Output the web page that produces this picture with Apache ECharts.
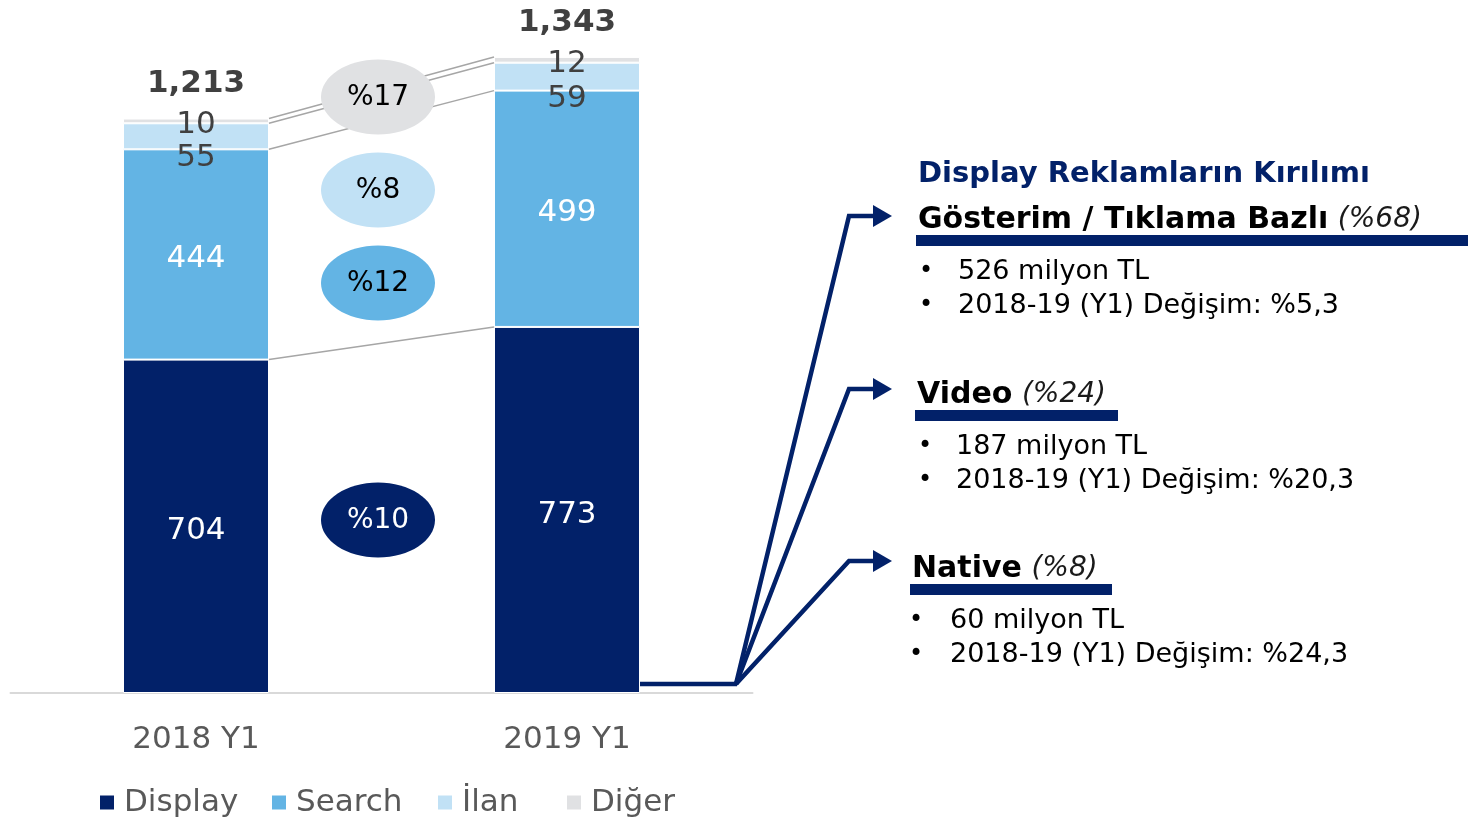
<!DOCTYPE html>
<html>
<head>
    <meta charset="UTF-8"/>
    <script type="text/javascript" src="https://cdn.jsdelivr.net/npm/echarts@6/dist/echarts.min.js"></script>
    <title>Display</title>
    <style>html, body {margin: 0; padding: 0; background: #fff;}</style>
</head>
<body>
<div id="main" style="width:1468px;height:819px"></div>
<script type="text/javascript">
    var categories = ['2018 Y1', '2019 Y1']
    var display = [704, 773]
    var search = [444, 499]
    var ilan = [55, 59]
    var diger = [10, 12]
    var totals = [1213, 1343]
    // büyüme oranları: Display, Search, İlan, Diğer
    var growth = ['%10', '%12', '%8', '%17']
    var seriesNames = ['Display', 'Search', 'İlan', 'Diğer']

    var breakTitles = ['Gösterim / Tıklama Bazlı', 'Video', 'Native']
    var breakShares = ['(%68)', '(%24)', '(%8)']
    var breakAmounts = ['526 milyon TL', '187 milyon TL', '60 milyon TL']
    var breakChanges = ['2018-19 (Y1) Değişim: %5,3', '2018-19 (Y1) Değişim: %20,3', '2018-19 (Y1) Değişim: %24,3']

    var FONT = '"DejaVu Sans"'
    var NAVY = '#022169'
    var colors = [NAVY, '#63b4e4', '#c1e1f5', '#e0e1e3']
    var BAR = 146

    // yığın sınırları (bağlantı çizgileri için)
    var cum = []
    var run = [0, 0]
    ;[display, search, ilan, diger].forEach(function (s) {
        run = [run[0] + s[0], run[1] + s[1]]
        cum.push([0, run[0], run[1]])
    })

    var myChart = echarts.init(document.getElementById('main'))

    function barLabel(color, offset) {
        return {
            show: true,
            position: 'inside',
            offset: offset,
            color: color,
            fontFamily: FONT,
            fontSize: 31
        }
    }

    var graphics = []
    // büyüme elipsleri
    var ellipseY = [520, 283, 190, 97]
    for (var i = 0; i < growth.length; i++) {
        graphics.push({
            type: 'ellipse', z: 100, silent: true,
            shape: {cx: 378, cy: ellipseY[i], rx: 57, ry: 37.5},
            style: {fill: colors[i]}
        })
        graphics.push({
            type: 'text', z: 101, silent: true,
            style: {
                text: growth[i], x: 378, y: ellipseY[i] + 1,
                align: 'center', verticalAlign: 'middle',
                fill: i == 0 ? '#fff' : '#000',
                fontFamily: FONT, fontSize: 28
            }
        })
    }

    // sağ panel
    graphics.push({
        type: 'text', z: 100, silent: true,
        style: {
            text: 'Display Reklamların Kırılımı', x: 918, y: 174,
            verticalAlign: 'middle', fill: NAVY,
            fontFamily: FONT, fontWeight: 'bold', fontSize: 29
        }
    })
    var headY = [218, 393, 567]
    var headX = [918, 917, 912]
    var barEnd = [1468, 1118, 1112]
    var bulletX = [926, 925, 916]
    var textX = [958, 956, 950]
    var arrowY = [216, 389, 561]
    for (var k = 0; k < 3; k++) {
        graphics.push({
            type: 'text', z: 100, silent: true,
            style: {
                text: '{b|' + breakTitles[k] + '}{s| }{i|' + breakShares[k] + '}',
                x: headX[k], y: headY[k] + 2, verticalAlign: 'middle',
                rich: {
                    b: {fontFamily: FONT, fontWeight: 'bold', fontSize: 30, fill: '#000'},
                    s: {fontFamily: FONT, fontSize: 30},
                    i: {fontFamily: FONT, fontStyle: 'italic', fontSize: 28, fill: '#1a1a1a'}
                }
            }
        })
        graphics.push({
            type: 'rect', z: 100, silent: true,
            shape: {x: headX[k] - 2, y: headY[k] + 17, width: barEnd[k] - headX[k] + 2, height: 11},
            style: {fill: NAVY}
        })
        var lines = [breakAmounts[k], breakChanges[k]]
        for (var j = 0; j < 2; j++) {
            var ly = headY[k] + 54 + j * 34
            graphics.push({
                type: 'text', z: 100, silent: true,
                style: {text: '•', x: bulletX[k], y: ly, align: 'center', verticalAlign: 'middle',
                    fill: '#000', fontFamily: FONT, fontSize: 24}
            })
            graphics.push({
                type: 'text', z: 100, silent: true,
                style: {text: lines[j], x: textX[k], y: ly, verticalAlign: 'middle',
                    fill: '#000', fontFamily: FONT, fontSize: 27}
            })
        }
        // oklar
        graphics.push({
            type: 'polyline', z: 100, silent: true,
            shape: {points: [[736, 684], [849, arrowY[k]], [877, arrowY[k]]]},
            style: {stroke: NAVY, lineWidth: 4.5, fill: null, lineJoin: 'miter'}
        })
        graphics.push({
            type: 'polygon', z: 100, silent: true,
            shape: {points: [[873, arrowY[k] - 11], [892, arrowY[k]], [873, arrowY[k] + 11]]},
            style: {fill: NAVY}
        })
    }
    graphics.push({
        type: 'polyline', z: 100, silent: true,
        shape: {points: [[640, 684], [737, 684]]},
        style: {stroke: NAVY, lineWidth: 4.5, fill: null}
    })

    // lejant öğeleri ayrı ayrı yerleştirilir
    var legendX = [93, 265, 431, 560]
    var legends = seriesNames.map(function (n, idx) {
        return {
            data: [n],
            left: legendX[idx],
            top: 782,
            itemWidth: 16,
            itemHeight: 16,
            icon: 'rect',
            textStyle: {color: '#595959', fontFamily: FONT, fontSize: 31, padding: [0, 0, 0, 4]}
        }
    })

    var option = {
        animation: false,
        textStyle: {fontFamily: FONT},
        grid: {left: 10.5, right: 715.5, top: 30, bottom: 126},
        legend: legends,
        xAxis: {
            type: 'category',
            data: categories,
            axisLine: {lineStyle: {color: '#d9d9d9', width: 2}},
            axisTick: {show: false},
            axisLabel: {color: '#595959', fontFamily: FONT, fontSize: 31, margin: 31}
        },
        yAxis: {
            type: 'value', min: 0, max: 1400, show: false,
            splitLine: {show: false}
        },
        series: [
            {
                name: seriesNames[0], type: 'bar', stack: 'total', data: display, barWidth: BAR,
                itemStyle: {color: colors[0], borderColor: '#fff', borderWidth: 1},
                label: barLabel('#fff', [0, 5])
            },
            {
                name: seriesNames[1], type: 'bar', stack: 'total', data: search, barWidth: BAR,
                itemStyle: {color: colors[1], borderColor: '#fff', borderWidth: 1},
                label: barLabel('#fff', [0, 4])
            },
            {
                name: seriesNames[2], type: 'bar', stack: 'total', data: ilan, barWidth: BAR,
                itemStyle: {color: colors[2], borderColor: '#fff', borderWidth: 1},
                label: barLabel('#404040', [0, 22])
            },
            {
                name: seriesNames[3], type: 'bar', stack: 'total', data: diger, barWidth: BAR,
                itemStyle: {color: colors[3], borderColor: '#fff', borderWidth: 1},
                label: barLabel('#404040', [0, 4])
            },
            {
                name: 'Toplam', type: 'bar', stack: 'total', barWidth: BAR,
                data: totals.map(function () { return 0 }),
                itemStyle: {color: 'transparent'},
                label: {
                    show: true, position: 'top', distance: 19,
                    color: '#404040', fontFamily: FONT, fontWeight: 'bold', fontSize: 31,
                    formatter: function (p) { return totals[p.dataIndex].toLocaleString('en-US') }
                }
            },
            {
                name: 'bağlantı', type: 'custom', data: cum, encode: {x: 0, y: 1}, z: 3, silent: true,
                renderItem: function (params, api) {
                    var a = api.coord([0, api.value(1)])
                    var b = api.coord([1, api.value(2)])
                    return {
                        type: 'line',
                        shape: {x1: a[0] + BAR / 2, y1: a[1], x2: b[0] - BAR / 2, y2: b[1]},
                        style: {stroke: '#a6a6a6', lineWidth: 1.5}
                    }
                }
            }
        ],
        graphic: graphics
    }
    myChart.setOption(option)
</script>
</body>
</html>
